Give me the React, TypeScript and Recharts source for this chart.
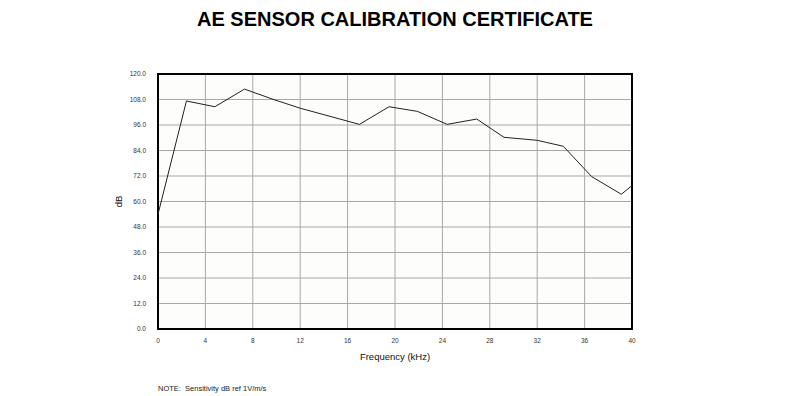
import React from "react";
import {
  LineChart, Line, XAxis, YAxis, CartesianGrid, ReferenceArea, Label,
} from "recharts";

// frequency (kHz) and sensitivity (dB)
const frequencies = [0, 2.4, 4.8, 7.3, 9.7, 12, 17, 19.5, 21.9, 24.4, 26.9, 29.2, 32, 34.2, 36.6, 39.1, 40];
const sensitivity = [54, 107.3, 104.6, 112.9, 108.1, 103.9, 96.3, 104.6, 102.4, 96.3, 98.8, 90.2, 88.8, 86.0, 71.7, 63.4, 67.5];

const xTicks = [0, 4, 8, 12, 16, 20, 24, 28, 32, 36, 40];
const yTicks = [0, 12, 24, 36, 48, 60, 72, 84, 96, 108, 120];

const data = frequencies.map((f, i) => ({ freq: f, db: sensitivity[i] }));

const font = "'Liberation Sans', Arial, sans-serif";

export default function App() {
  return (
    <div style={{ position: "absolute", left: 0, top: 0, width: 790, height: 396, background: "#fff", fontFamily: font }}>
      <div style={{ position: "absolute", top: 8, left: 0, width: 790, textAlign: "center", fontSize: 20, fontWeight: "bold", color: "#000" }}>
        AE SENSOR CALIBRATION CERTIFICATE
      </div>
      <LineChart
        width={790}
        height={396}
        data={data}
        margin={{ top: 74, right: 158, bottom: 37, left: 98 }}
      >
        <CartesianGrid stroke="#a8a8a8" strokeWidth={1} fill="#fdfdfb" />
        <XAxis
          dataKey="freq"
          type="number"
          domain={[0, 40]}
          ticks={xTicks}
          height={30}
          axisLine={false}
          tickLine={false}
          tickMargin={3}
          tick={{ fontSize: 6.5, fill: "#333", fontFamily: font }}
        >
          <Label value="Frequency (kHz)" position="bottom" offset={-6} style={{ fontSize: 9.5, fill: "#111", fontFamily: font }} />
        </XAxis>
        <YAxis
          type="number"
          domain={[0, 120]}
          ticks={yTicks}
          width={60}
          axisLine={false}
          tickLine={false}
          tickMargin={6}
          tickFormatter={(v) => v.toFixed(1)}
          tick={{ fontSize: 6.5, fill: "#333", fontFamily: font }}
        >
          <Label value="dB" angle={-90} position="insideLeft" offset={21} style={{ fontSize: 9.5, fill: "#111", fontFamily: font, textAnchor: "middle" }} />
        </YAxis>
        <ReferenceArea x1={0} x2={40} y1={0} y2={120} fill="none" stroke="#000" strokeWidth={2} ifOverflow="visible" />
        <Line
          dataKey="db"
          type="linear"
          stroke="#222"
          strokeWidth={1}
          dot={false}
          isAnimationActive={false}
        />
      </LineChart>
      <div style={{ position: "absolute", left: 158, top: 384, fontSize: 7.5, color: "#222" }}>
        NOTE:&nbsp; Sensitivity dB ref 1V/m/s
      </div>
    </div>
  );
}
